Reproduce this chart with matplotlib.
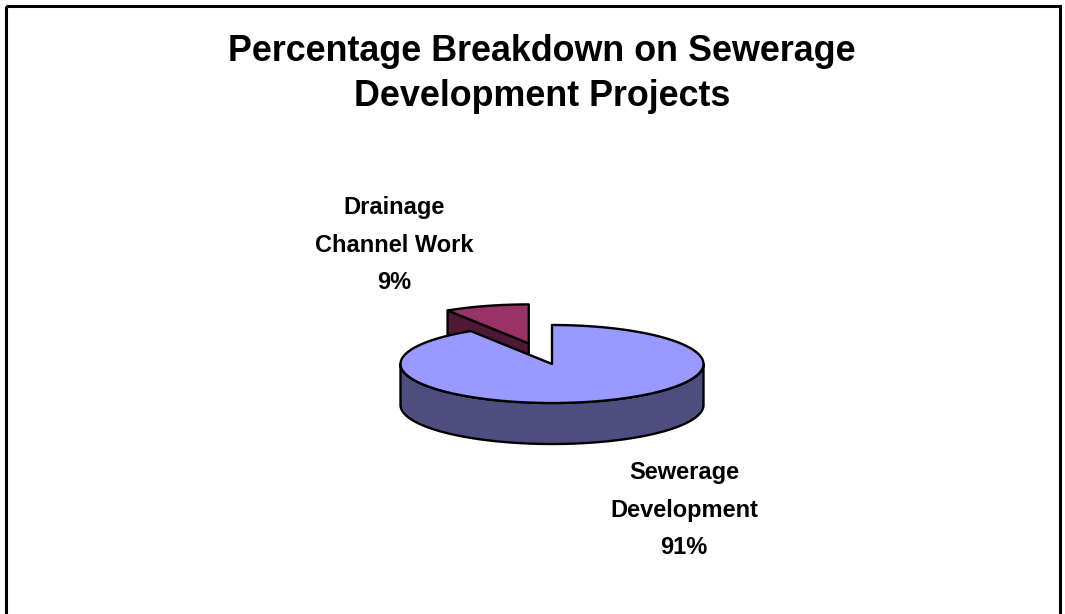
import matplotlib.pyplot as plt
import numpy as np
from matplotlib.patches import Polygon, Rectangle

labels = ["Sewerage\nDevelopment", "Drainage\nChannel Work"]
shares = [91, 9]
top_colors = ["#9999FF", "#993366"]
side_colors = ["#4D4D80", "#4D1933"]

plt.rcParams['font.family'] = ['Liberation Sans', 'DejaVu Sans']

fig = plt.figure(figsize=(10.65, 6.14), dpi=100)
ax = fig.add_axes([0, 0, 1, 1])
ax.set_xlim(0, 1065)
ax.set_ylim(614, 0)
ax.axis('off')

# pie geometry in pixels
cx, cy = 552, 364
rx, ry = 151.5, 39
depth = 41
explode = 0.55
lw = 1.7

def pt(ang, ox=0, oy=0, dz=0):
    a = np.radians(ang)
    return (ox + cx + rx * np.cos(a), oy + cy - ry * np.sin(a) + dz)

# slice angles, clockwise from 12 o'clock
fracs = np.array(shares) / sum(shares)
start = 90.0
spans = []
for f in fracs:
    end = start - 360 * f
    spans.append((start, end))
    start = end

# drainage slice (exploded, sits behind)
s2, e2 = spans[1]
mid = np.radians((s2 + e2) / 2)
ox = explode * rx * np.cos(mid)
oy = -explode * ry * np.sin(mid)
face = [(cx + ox, cy + oy), pt(s2, ox, oy), pt(s2, ox, oy, depth),
        (cx + ox, cy + oy + depth)]
ax.add_patch(Polygon(face, closed=True, fc=side_colors[1], ec='black', lw=lw, joinstyle='round'))
angs = np.linspace(s2, e2, 40)
top2 = [(cx + ox, cy + oy)] + [pt(a, ox, oy) for a in angs]
ax.add_patch(Polygon(top2, closed=True, fc=top_colors[1], ec='black', lw=lw, joinstyle='round'))

# main slice: front rim then top face
s1, e1 = spans[0]
front = np.linspace(180, 360, 120)
side = [pt(a) for a in front] + [pt(a, dz=depth) for a in front[::-1]]
ax.add_patch(Polygon(side, closed=True, fc=side_colors[0], ec='black', lw=lw, joinstyle='round'))
angs = np.linspace(s1, e1, 300)
top1 = [(cx, cy)] + [pt(a) for a in angs]
ax.add_patch(Polygon(top1, closed=True, fc=top_colors[0], ec='black', lw=lw, joinstyle='round'))

# labels
pcts = ["{:d}%".format(v) for v in shares]
ax.text(684, 510, labels[0] + "\n" + pcts[0], ha='center', va='center',
        fontsize=17, fontweight='bold', linespacing=1.78)
ax.text(394, 245, labels[1] + "\n" + pcts[1], ha='center', va='center',
        fontsize=17, fontweight='bold', linespacing=1.78)

ax.text(542, 74, "Percentage Breakdown on Sewerage\nDevelopment Projects",
        ha='center', va='center', fontsize=25.8, fontweight='bold', linespacing=1.37)

# chart border
ax.add_patch(Rectangle((6, 6), 1054, 650, fill=False, ec='black', lw=2.2))

fig.savefig('out.png', dpi=100)
